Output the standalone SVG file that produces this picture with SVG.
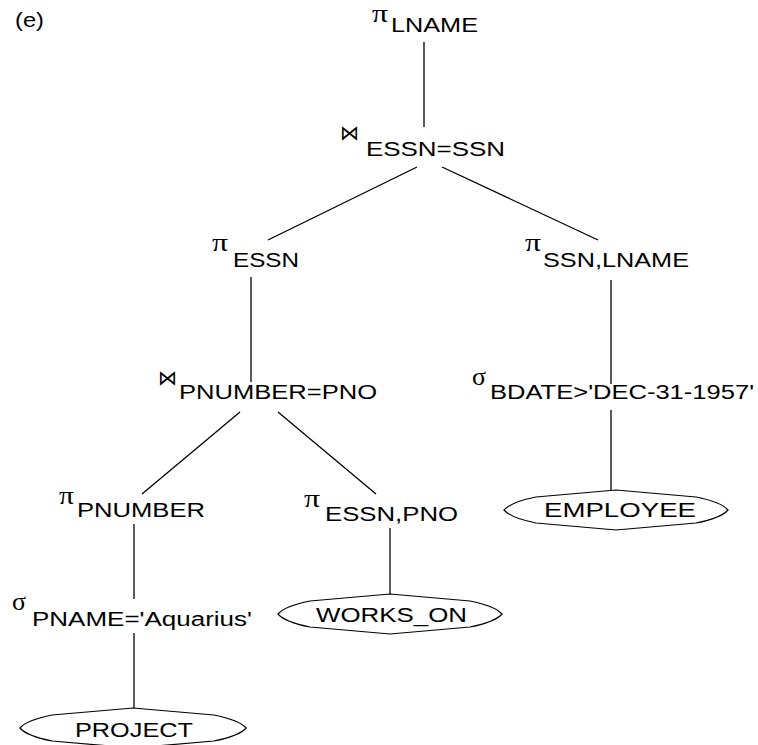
<svg xmlns="http://www.w3.org/2000/svg" width="758" height="745" viewBox="0 0 758 745">
  <defs>
    <style>
      .lbl { font-family: "Liberation Sans", Arial, sans-serif; font-size: 20px; fill: #000; }
      .op { font-family: "Liberation Serif", "DejaVu Serif", serif; font-size: 26px; fill: #000; }
      .bow { font-family: "DejaVu Sans", sans-serif; font-size: 21px; fill: #000; }
      .edge { stroke: #000; stroke-width: 1.3; fill: none; }
      .rel { stroke: #000; stroke-width: 1.2; fill: #fff; }
    </style>
    <!-- flattened oval used for base relations, centred on 0,0 -->
    <path id="oval" d="M-112,0 Q-105,-8 -80,-13 L0,-20 L80,-13 Q105,-8 112,0 Q105,8 80,13 L0,20 L-80,13 Q-105,8 -112,0 Z"/>
  </defs>
  <rect width="758" height="745" fill="#fff"/>

  <text class="lbl" x="15" y="27" font-size="21" textLength="29" lengthAdjust="spacingAndGlyphs">(e)</text>

  <!-- tree edges -->
  <g id="connectors">
    <line class="edge" x1="424" y1="42" x2="424" y2="127"/>
    <line class="edge" x1="417" y1="167" x2="268" y2="240"/>
    <line class="edge" x1="442" y1="167" x2="598" y2="240"/>
    <line class="edge" x1="251" y1="277" x2="251" y2="382"/>
    <line class="edge" x1="611" y1="280" x2="611" y2="384"/>
    <line class="edge" x1="240" y1="412" x2="142" y2="494"/>
    <line class="edge" x1="278" y1="412" x2="376" y2="494"/>
    <line class="edge" x1="611" y1="410" x2="611" y2="490"/>
    <line class="edge" x1="134" y1="524" x2="134" y2="599"/>
    <line class="edge" x1="390" y1="528" x2="390" y2="594"/>
    <line class="edge" x1="134" y1="633" x2="134" y2="708"/>
  </g>

  <g id="proj-lname">
    <text class="op" x="372" y="22" font-size="23" textLength="16" lengthAdjust="spacingAndGlyphs">π</text>
    <text class="lbl" x="391" y="32" textLength="87" lengthAdjust="spacingAndGlyphs">LNAME</text>
  </g>

  <g id="join-essn-ssn">
    <text class="bow" x="340" y="140" textLength="19" lengthAdjust="spacingAndGlyphs">⋈</text>
    <text class="lbl" x="366" y="156" textLength="139" lengthAdjust="spacingAndGlyphs">ESSN=SSN</text>
  </g>

  <g id="proj-essn">
    <text class="op" x="212" y="251" textLength="16" lengthAdjust="spacingAndGlyphs">π</text>
    <text class="lbl" x="233" y="267" textLength="66" lengthAdjust="spacingAndGlyphs">ESSN</text>
  </g>

  <g id="proj-ssn-lname">
    <text class="op" x="525" y="251" textLength="16" lengthAdjust="spacingAndGlyphs">π</text>
    <text class="lbl" x="543" y="267" textLength="146" lengthAdjust="spacingAndGlyphs">SSN,LNAME</text>
  </g>

  <g id="join-pnumber-pno">
    <text class="bow" x="158" y="385" textLength="19" lengthAdjust="spacingAndGlyphs">⋈</text>
    <text class="lbl" x="179" y="399" textLength="198" lengthAdjust="spacingAndGlyphs">PNUMBER=PNO</text>
  </g>

  <g id="select-bdate">
    <text class="op" x="472" y="385" textLength="14" lengthAdjust="spacingAndGlyphs">σ</text>
    <text class="lbl" x="490" y="399" textLength="264" lengthAdjust="spacingAndGlyphs">BDATE&gt;'DEC-31-1957'</text>
  </g>

  <g id="proj-pnumber">
    <text class="op" x="59" y="504" textLength="15" lengthAdjust="spacingAndGlyphs">π</text>
    <text class="lbl" x="77" y="517" textLength="128" lengthAdjust="spacingAndGlyphs">PNUMBER</text>
  </g>

  <g id="proj-essn-pno">
    <text class="op" x="304" y="507" textLength="16" lengthAdjust="spacingAndGlyphs">π</text>
    <text class="lbl" x="325" y="521" textLength="133" lengthAdjust="spacingAndGlyphs">ESSN,PNO</text>
  </g>

  <g id="select-pname">
    <text class="op" x="12" y="610" textLength="14" lengthAdjust="spacingAndGlyphs">σ</text>
    <text class="lbl" x="32" y="626" textLength="220" lengthAdjust="spacingAndGlyphs">PNAME='Aquarius'</text>
  </g>

  <g id="employee">
    <use href="#oval" class="rel" transform="translate(616,510)"/>
    <text class="lbl" x="544" y="517" textLength="152" lengthAdjust="spacingAndGlyphs">EMPLOYEE</text>
  </g>

  <g id="works-on">
    <use href="#oval" class="rel" transform="translate(390,614)"/>
    <text class="lbl" x="316" y="622" textLength="151" lengthAdjust="spacingAndGlyphs">WORKS_ON</text>
  </g>

  <g id="project">
    <use href="#oval" class="rel" transform="translate(133,728) scale(1.01,1)"/>
    <text class="lbl" x="75" y="737" textLength="118" lengthAdjust="spacingAndGlyphs">PROJECT</text>
  </g>
</svg>
